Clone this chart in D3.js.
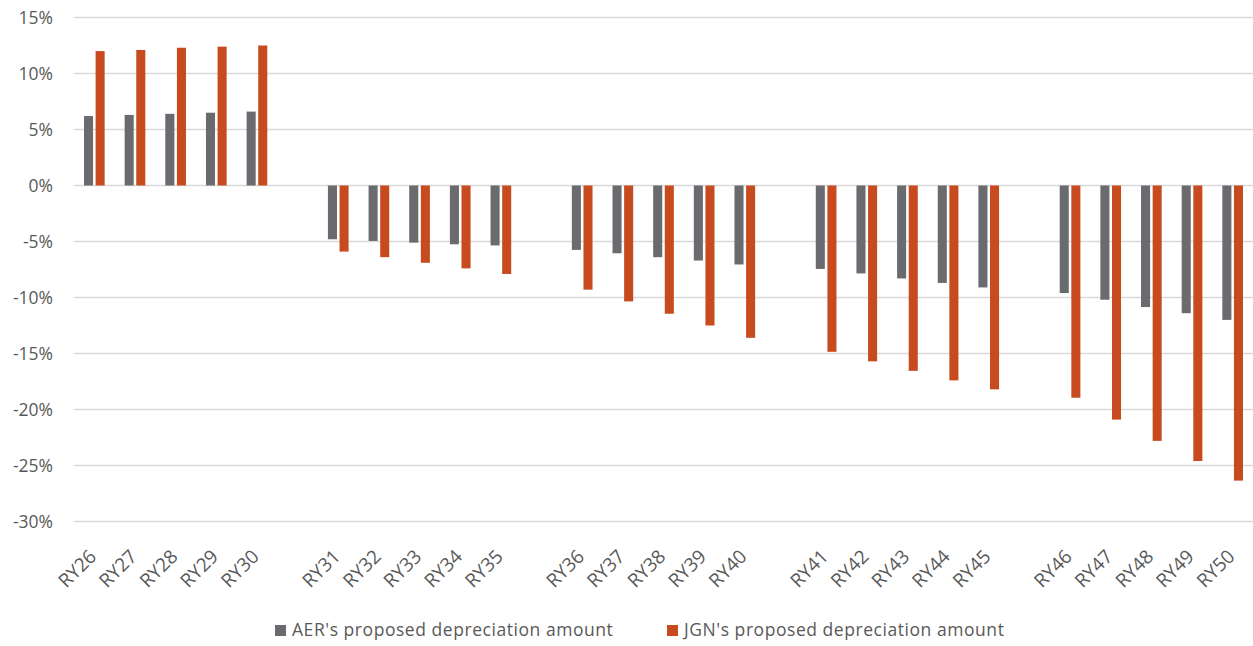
<!DOCTYPE html>
<html>
<head>
<meta charset="utf-8">
<script src="https://cdn.jsdelivr.net/npm/d3@7"></script>
<style>
  html, body { margin: 0; padding: 0; background: #ffffff; }
  svg { display: block; }
  text { font-family: "Open Sans", "Liberation Sans", sans-serif; fill: #595959; }
</style>
</head>
<body>
<svg id="chart" width="1253" height="646"></svg>
<script>
// Regulatory years, drawn in blocks of five with an empty slot between blocks
const categories = ["RY26","RY27","RY28","RY29","RY30",
                    "RY31","RY32","RY33","RY34","RY35",
                    "RY36","RY37","RY38","RY39","RY40",
                    "RY41","RY42","RY43","RY44","RY45",
                    "RY46","RY47","RY48","RY49","RY50"];

// Percentage change in depreciation, per year
const aerValues = [6.2, 6.3, 6.4, 6.5, 6.6,
                   -4.8, -4.95, -5.1, -5.25, -5.35,
                   -5.75, -6.05, -6.4, -6.7, -7.05,
                   -7.45, -7.85, -8.3, -8.7, -9.1,
                   -9.6, -10.2, -10.85, -11.4, -12.0];
const jgnValues = [12.0, 12.1, 12.3, 12.4, 12.5,
                   -5.9, -6.4, -6.9, -7.4, -7.9,
                   -9.3, -10.35, -11.45, -12.5, -13.6,
                   -14.85, -15.7, -16.55, -17.4, -18.2,
                   -18.95, -20.9, -22.8, -24.6, -26.35];

const seriesNames = ["AER's proposed depreciation amount", "JGN's proposed depreciation amount"];
const seriesColors = ["#6a6b6f", "#c84b20"];
const yTicks = [15, 10, 5, 0, -5, -10, -15, -20, -25, -30];

const svg = d3.select("#chart");

// Build the slot list: a blank slot after each block of five years
const slots = [];
categories.forEach((c, i) => {
  slots.push(c);
  if (i % 5 === 4 && i < categories.length - 1) slots.push("gap" + i);
});

const x = d3.scaleBand().domain(slots).range([74, 1253]).padding(0);
const xInner = d3.scaleBand().domain([0, 1]).range([0, x.bandwidth()])
  .paddingInner(0.22).paddingOuter(0.86);
const y = d3.scaleLinear().domain([-30, 15]).range([521.5, 17.5]);

// Horizontal gridlines
svg.append("g")
  .selectAll("line")
  .data(yTicks)
  .join("line")
  .attr("x1", 74).attr("x2", 1253)
  .attr("y1", d => y(d)).attr("y2", d => y(d))
  .attr("stroke", "#d9d9d9").attr("stroke-width", 1.3);

// Y axis labels
const yAxis = d3.axisLeft(y).tickValues(yTicks).tickFormat(d => d + "%").tickSize(0).tickPadding(0);
const yg = svg.append("g").attr("transform", "translate(53,0)").call(yAxis);
yg.select(".domain").remove();
yg.selectAll("text").attr("font-size", 17.5).style("fill", "#595959")
  .style("font-family", "'Open Sans', sans-serif");

// Bars
const rows = categories.map((c, i) => ({ cat: c, vals: [aerValues[i], jgnValues[i]] }));
const groups = svg.append("g").selectAll("g")
  .data(rows)
  .join("g")
  .attr("transform", d => `translate(${x(d.cat)},0)`);
groups.selectAll("rect")
  .data(d => d.vals.map((v, k) => ({ v, k })))
  .join("rect")
  .attr("x", d => xInner(d.k))
  .attr("width", xInner.bandwidth())
  .attr("y", d => Math.min(y(d.v), y(0)))
  .attr("height", d => Math.abs(y(d.v) - y(0)))
  .attr("fill", d => seriesColors[d.k]);

// X axis labels, rotated
const xAxis = d3.axisBottom(x).tickValues(categories).tickSize(0).tickPadding(0);
const xg = svg.append("g").attr("transform", "translate(0,540)").call(xAxis);
xg.select(".domain").remove();
xg.selectAll("text")
  .attr("font-size", 19)
  .style("fill", "#595959")
  .style("font-family", "'Open Sans', sans-serif")
  .attr("text-anchor", "end")
  .attr("dy", "0.35em")
  .attr("transform", "translate(-1.5,13) rotate(-45)");

// Legend
const legendX = [275, 667];
const legend = svg.append("g").selectAll("g")
  .data(seriesNames)
  .join("g")
  .attr("transform", (d, i) => `translate(${legendX[i]},625)`);
legend.append("rect").attr("width", 11).attr("height", 11)
  .attr("fill", (d, i) => seriesColors[i]);
legend.append("text").attr("x", 17).attr("y", 11)
  .attr("font-size", 17.5).attr("letter-spacing", 0.55).text(d => d);
</script>
</body>
</html>
